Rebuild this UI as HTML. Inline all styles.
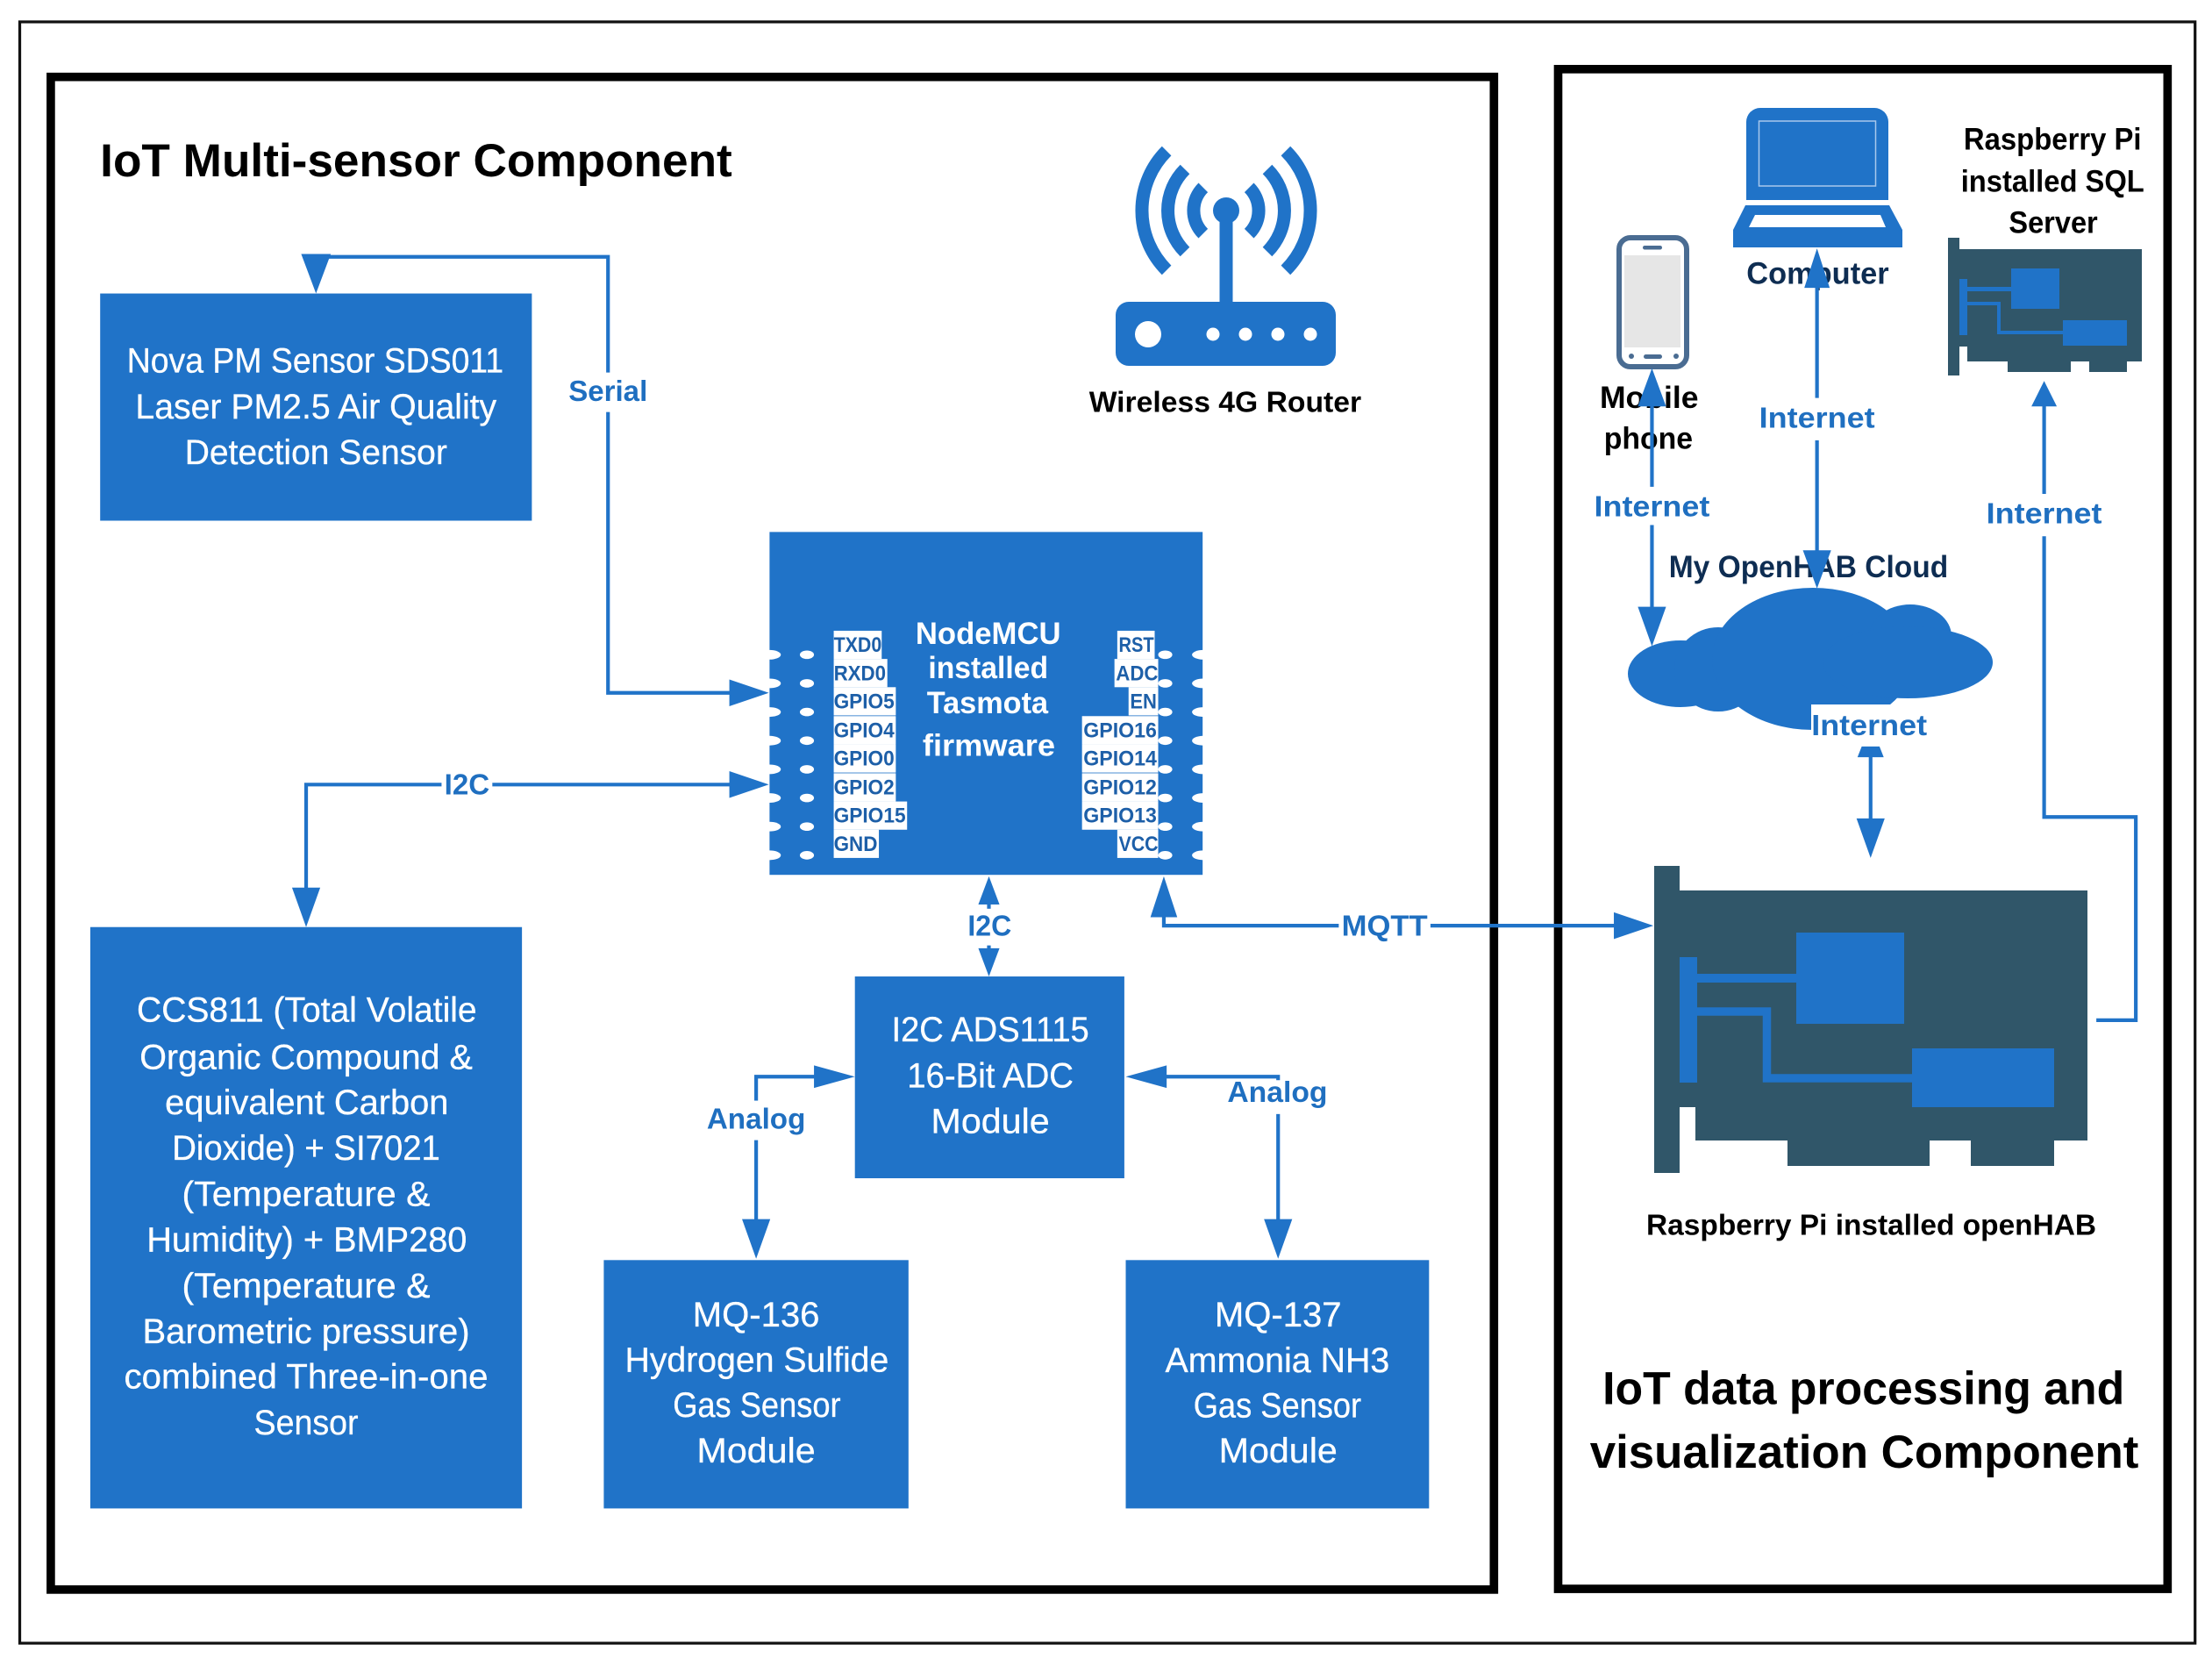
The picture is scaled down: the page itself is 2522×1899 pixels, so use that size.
<!DOCTYPE html>
<html><head><meta charset="utf-8"><style>
html,body{margin:0;padding:0;background:#fff}
svg{display:block}
text{font-family:"Liberation Sans",sans-serif}
.b{fill:#fff;font-size:25px;stroke:#fff;stroke-width:.2}
.l{fill:#1f6fc0;font-size:21px;font-weight:bold}
.k{fill:#000;font-size:21px;font-weight:bold}
.n{fill:#0e2d52;font-size:22px;font-weight:bold}
.t{fill:#000;font-size:33px;font-weight:bold}
.p{fill:#1d5fa8;font-size:15px;font-weight:bold}
.m{fill:#fff;font-size:22px;font-weight:bold}
</style></head><body>
<svg xmlns="http://www.w3.org/2000/svg" width="2522" height="1899" viewBox="0 0 2522 1899">
<rect width="2522" height="1899" fill="#fff"/>
<g transform="scale(1.60842)">
<rect x="14" y="15.500" width="1542" height="1149" fill="none" stroke="#111" stroke-width="2"/>
<rect x="36" y="54.500" width="1023" height="1072" fill="none" stroke="#000" stroke-width="6"/>
<rect x="1104.500" y="49" width="432" height="1077" fill="none" stroke="#000" stroke-width="6"/>

<g fill="#2073c8">
<rect x="71" y="208" width="306" height="161"/>
<rect x="64" y="657" width="306" height="412"/>
<rect x="606" y="692" width="191" height="143"/>
<rect x="428" y="893" width="216" height="176"/>
<rect x="798" y="893" width="215" height="176"/>
<rect x="545.500" y="377" width="307" height="243"/>
</g>

<!-- pins -->
<g fill="#fff">
<ellipse cx="545.500" cy="464" rx="8" ry="3.400"/><ellipse cx="545.500" cy="484.300" rx="8" ry="3.400"/><ellipse cx="545.500" cy="504.600" rx="8" ry="3.400"/><ellipse cx="545.500" cy="524.900" rx="8" ry="3.400"/><ellipse cx="545.500" cy="545.200" rx="8" ry="3.400"/><ellipse cx="545.500" cy="565.500" rx="8" ry="3.400"/><ellipse cx="545.500" cy="585.800" rx="8" ry="3.400"/><ellipse cx="545.500" cy="606.100" rx="8" ry="3.400"/>
<ellipse cx="572" cy="464" rx="5" ry="3"/><ellipse cx="572" cy="484.300" rx="5" ry="3"/><ellipse cx="572" cy="504.600" rx="5" ry="3"/><ellipse cx="572" cy="524.900" rx="5" ry="3"/><ellipse cx="572" cy="545.200" rx="5" ry="3"/><ellipse cx="572" cy="565.500" rx="5" ry="3"/><ellipse cx="572" cy="585.800" rx="5" ry="3"/><ellipse cx="572" cy="606.100" rx="5" ry="3"/>
<ellipse cx="826" cy="464" rx="5" ry="3"/><ellipse cx="826" cy="484.300" rx="5" ry="3"/><ellipse cx="826" cy="504.600" rx="5" ry="3"/><ellipse cx="826" cy="524.900" rx="5" ry="3"/><ellipse cx="826" cy="545.200" rx="5" ry="3"/><ellipse cx="826" cy="565.500" rx="5" ry="3"/><ellipse cx="826" cy="585.800" rx="5" ry="3"/><ellipse cx="826" cy="606.100" rx="5" ry="3"/>
<ellipse cx="853" cy="464" rx="8" ry="3.400"/><ellipse cx="853" cy="484.300" rx="8" ry="3.400"/><ellipse cx="853" cy="504.600" rx="8" ry="3.400"/><ellipse cx="853" cy="524.900" rx="8" ry="3.400"/><ellipse cx="853" cy="545.200" rx="8" ry="3.400"/><ellipse cx="853" cy="565.500" rx="8" ry="3.400"/><ellipse cx="853" cy="585.800" rx="8" ry="3.400"/><ellipse cx="853" cy="606.100" rx="8" ry="3.400"/>
<rect x="591" y="447" width="34" height="20"/><rect x="591" y="467" width="38" height="20"/><rect x="591" y="487" width="44" height="20"/><rect x="591" y="507.500" width="44" height="20"/><rect x="591" y="527.500" width="44" height="20"/><rect x="591" y="548" width="44" height="20"/><rect x="591" y="568" width="52" height="20"/><rect x="591" y="588" width="32" height="20"/>
<rect x="792" y="447" width="26.500" height="20"/><rect x="790" y="467" width="31" height="20"/><rect x="800" y="487" width="21" height="20"/><rect x="767" y="507.500" width="54" height="20"/><rect x="767" y="527.500" width="54" height="20"/><rect x="767" y="548" width="54" height="20"/><rect x="767" y="568" width="54" height="20"/><rect x="792" y="588" width="29" height="20"/>
</g>
<g>
<text class="p" x="591" y="462" textLength="34" lengthAdjust="spacingAndGlyphs">TXD0</text>
<text class="p" x="591" y="482" textLength="37" lengthAdjust="spacingAndGlyphs">RXD0</text>
<text class="p" x="591" y="502" textLength="43" lengthAdjust="spacingAndGlyphs">GPIO5</text>
<text class="p" x="591" y="522.500" textLength="43" lengthAdjust="spacingAndGlyphs">GPIO4</text>
<text class="p" x="591" y="542.500" textLength="43" lengthAdjust="spacingAndGlyphs">GPIO0</text>
<text class="p" x="591" y="563" textLength="43" lengthAdjust="spacingAndGlyphs">GPIO2</text>
<text class="p" x="591" y="583" textLength="51" lengthAdjust="spacingAndGlyphs">GPIO15</text>
<text class="p" x="591" y="603" textLength="31" lengthAdjust="spacingAndGlyphs">GND</text>
<text class="p" x="793" y="462" textLength="25" lengthAdjust="spacingAndGlyphs">RST</text>
<text class="p" x="791" y="482" textLength="30" lengthAdjust="spacingAndGlyphs">ADC</text>
<text class="p" x="801" y="502" textLength="19" lengthAdjust="spacingAndGlyphs">EN</text>
<text class="p" x="768" y="522.500" textLength="52" lengthAdjust="spacingAndGlyphs">GPIO16</text>
<text class="p" x="768" y="542.500" textLength="52" lengthAdjust="spacingAndGlyphs">GPIO14</text>
<text class="p" x="768" y="563" textLength="52" lengthAdjust="spacingAndGlyphs">GPIO12</text>
<text class="p" x="768" y="583" textLength="52" lengthAdjust="spacingAndGlyphs">GPIO13</text>
<text class="p" x="793" y="603" textLength="28" lengthAdjust="spacingAndGlyphs">VCC</text>
</g>
<text class="m" x="649" y="456.500" textLength="103" lengthAdjust="spacingAndGlyphs">NodeMCU</text>
<text class="m" x="658" y="480.500" textLength="85" lengthAdjust="spacingAndGlyphs">installed</text>
<text class="m" x="657" y="505.500" textLength="86" lengthAdjust="spacingAndGlyphs">Tasmota</text>
<text class="m" x="654" y="535.500" textLength="94" lengthAdjust="spacingAndGlyphs">firmware</text>

<!-- box text -->
<text class="b" x="90" y="264" textLength="267" lengthAdjust="spacingAndGlyphs">Nova PM Sensor SDS011</text>
<text class="b" x="96" y="296.500" textLength="256" lengthAdjust="spacingAndGlyphs">Laser PM2.5 Air Quality</text>
<text class="b" x="131" y="329" textLength="186" lengthAdjust="spacingAndGlyphs">Detection Sensor</text>

<text class="b" x="97" y="724" textLength="241" lengthAdjust="spacingAndGlyphs">CCS811 (Total Volatile</text>
<text class="b" x="99" y="757.500" textLength="236" lengthAdjust="spacingAndGlyphs">Organic Compound &amp;</text>
<text class="b" x="117" y="789.500" textLength="201" lengthAdjust="spacingAndGlyphs">equivalent Carbon</text>
<text class="b" x="122" y="822" textLength="190" lengthAdjust="spacingAndGlyphs">Dioxide) + SI7021</text>
<text class="b" x="129" y="854.500" textLength="176" lengthAdjust="spacingAndGlyphs">(Temperature &amp;</text>
<text class="b" x="104" y="887" textLength="227" lengthAdjust="spacingAndGlyphs">Humidity) + BMP280</text>
<text class="b" x="129" y="919.500" textLength="176" lengthAdjust="spacingAndGlyphs">(Temperature &amp;</text>
<text class="b" x="101" y="952" textLength="232" lengthAdjust="spacingAndGlyphs">Barometric pressure)</text>
<text class="b" x="88" y="984" textLength="258" lengthAdjust="spacingAndGlyphs">combined Three-in-one</text>
<text class="b" x="180" y="1016.500" textLength="74" lengthAdjust="spacingAndGlyphs">Sensor</text>

<text class="b" x="632" y="738" textLength="140" lengthAdjust="spacingAndGlyphs">I2C ADS1115</text>
<text class="b" x="643" y="770.500" textLength="118" lengthAdjust="spacingAndGlyphs">16-Bit ADC</text>
<text class="b" x="660" y="803" textLength="84" lengthAdjust="spacingAndGlyphs">Module</text>

<text class="b" x="491" y="940" textLength="90" lengthAdjust="spacingAndGlyphs">MQ-136</text>
<text class="b" x="443" y="972" textLength="187" lengthAdjust="spacingAndGlyphs">Hydrogen Sulfide</text>
<text class="b" x="477" y="1004" textLength="119" lengthAdjust="spacingAndGlyphs">Gas Sensor</text>
<text class="b" x="494" y="1036.500" textLength="84" lengthAdjust="spacingAndGlyphs">Module</text>

<text class="b" x="861" y="940" textLength="90" lengthAdjust="spacingAndGlyphs">MQ-137</text>
<text class="b" x="826" y="972.500" textLength="159" lengthAdjust="spacingAndGlyphs">Ammonia NH3</text>
<text class="b" x="846" y="1004.500" textLength="119" lengthAdjust="spacingAndGlyphs">Gas Sensor</text>
<text class="b" x="864" y="1036.500" textLength="84" lengthAdjust="spacingAndGlyphs">Module</text>

<text class="t" x="71" y="125" textLength="448" lengthAdjust="spacingAndGlyphs">IoT Multi-sensor Component</text>
<text class="t" x="1136" y="995" textLength="370" lengthAdjust="spacingAndGlyphs">IoT data processing and</text>
<text class="t" x="1127" y="1040" textLength="389" lengthAdjust="spacingAndGlyphs">visualization Component</text>

<text class="k" x="772" y="292" textLength="193" lengthAdjust="spacingAndGlyphs">Wireless 4G Router</text>
<text class="n" x="1238" y="201" textLength="101" lengthAdjust="spacingAndGlyphs">Computer</text>
<text class="k" x="1134" y="289" textLength="70" lengthAdjust="spacingAndGlyphs" style="font-size:22px">Mobile</text>
<text class="k" x="1137" y="318" textLength="63" lengthAdjust="spacingAndGlyphs" style="font-size:22px">phone</text>
<text class="k" x="1392" y="106" textLength="126" lengthAdjust="spacingAndGlyphs" style="font-size:22px">Raspberry Pi</text>
<text class="k" x="1390" y="136" textLength="130" lengthAdjust="spacingAndGlyphs" style="font-size:22px">installed SQL</text>
<text class="k" x="1424" y="165" textLength="63" lengthAdjust="spacingAndGlyphs" style="font-size:22px">Server</text>
<text class="k" x="1167" y="875" textLength="319" lengthAdjust="spacingAndGlyphs">Raspberry Pi installed openHAB</text>
<text class="n" x="1183" y="409" textLength="198" lengthAdjust="spacingAndGlyphs">My OpenHAB Cloud</text>
</g>

<!-- router -->
<g fill="#2073c8">
<circle cx="1398" cy="240" r="15"/><rect x="1390.500" y="240" width="15" height="106"/>
<rect x="1272" y="344" width="251" height="73" rx="15"/>
</g>
<g fill="#fff"><circle cx="1309" cy="381" r="15"/><circle cx="1383" cy="381" r="7.500"/><circle cx="1420" cy="381" r="7.500"/><circle cx="1457" cy="381" r="7.500"/><circle cx="1494" cy="381" r="7.500"/></g>
<g fill="none" stroke="#2073c8" stroke-width="15">
<path d="M1371.800 213.800A37 37 0 0 0 1371.800 266.200"/><path d="M1424.200 213.800A37 37 0 0 1 1424.200 266.200"/>
<path d="M1351 193A66.500 66.500 0 0 0 1351 287"/><path d="M1445 193A66.500 66.500 0 0 1 1445 287"/>
<path d="M1330.100 172.100A96 96 0 0 0 1330.100 307.900"/><path d="M1465.900 172.100A96 96 0 0 1 1465.900 307.900"/>
</g>

<!-- laptop -->
<path d="M1991 228V139a16 16 0 0 1 16-16h130a16 16 0 0 1 16 16v89z" fill="#2073c8"/>
<rect x="2005.500" y="138" width="133" height="74" fill="none" stroke="#a8c8ec" stroke-width="1.500"/>
<path d="M1990 234H2154L2169 262V282H1976V262z" fill="#2073c8"/>
<path d="M2001 245H2144L2150 259H1994z" fill="#fff"/>

<!-- phone -->
<rect x="1846" y="271" width="77" height="147" rx="13" fill="#fff" stroke="#4a6c92" stroke-width="6"/>
<rect x="1852" y="291" width="64" height="105" fill="#e6e6e6"/>
<rect x="1873" y="280" width="22" height="4.500" rx="2.200" fill="#4a6c92"/>
<rect x="1874" y="404" width="21" height="5" rx="2.500" fill="#4a6c92"/>
<circle cx="1860" cy="406" r="3" fill="#4a6c92"/><circle cx="1911" cy="406" r="3" fill="#4a6c92"/>

<!-- SQL board -->
<path d="M2221 271H2234V284H2442V412H2425V424H2382V412H2361V424H2289V412H2243V395H2234V428H2221z" fill="#305669"/>
<g fill="#2073c8">
<rect x="2234" y="318" width="9" height="64"/><rect x="2293" y="306" width="55" height="46"/><rect x="2352" y="365" width="73" height="29"/>
<rect x="2243" y="327" width="50" height="5"/>
</g>
<path d="M2243 346H2279V379H2352" fill="none" stroke="#2073c8" stroke-width="4"/>

<!-- big board -->
<path d="M1886 987H1915V1015H2380V1300H2342V1329H2247V1300H2200V1329H2038V1300H1933V1262H1915V1337H1886z" fill="#305669"/>
<g fill="#2073c8">
<rect x="1915" y="1091" width="20" height="143"/><rect x="2048" y="1063" width="123" height="104"/><rect x="2180" y="1195" width="162" height="67"/>
<rect x="1935" y="1110" width="113" height="10"/>
</g>
<path d="M1935 1153H2014.500V1229H2180" fill="none" stroke="#2073c8" stroke-width="9.500"/>

<!-- cloud -->
<g fill="#2073c8">
<ellipse cx="1916" cy="768" rx="60" ry="38"/><ellipse cx="1959" cy="763" rx="50" ry="48"/>
<ellipse cx="2067" cy="751" rx="115" ry="81"/><ellipse cx="2178" cy="725" rx="47" ry="36"/>
<ellipse cx="2175" cy="755" rx="97" ry="41"/>
</g>
<rect x="2065" y="803" width="135" height="46" fill="#fff"/>

<!-- connectors -->
<g transform="scale(1.60842)">
<g fill="none" stroke="#2073c8" stroke-width="2.600">
<path d="M224 182H431V491H520"/>
<path d="M217 632V556H520"/>
<path d="M701 640V674"/>
<path d="M825 648V656H1146"/>
<path d="M580 763H536V866"/>
<path d="M824 763H906V866"/>
<path d="M1171 285V345M1171 372V432"/>
<path d="M1288 200V282M1288 312V392"/>
<path d="M1449 285V350M1449 380V579H1514V723H1486"/>
<path d="M1326 535V582"/>
</g>
<g fill="#2073c8">
<path d="M213.500 180H234.500L224 208z"/>
<path d="M517 481.500L545 491L517 500.500z"/>
<path d="M207 629H227L217 657z"/>
<path d="M517 546.500L545 556L517 565.500z"/>
<path d="M693.500 641L701 621L708.500 641z"/>
<path d="M693.500 672L701 692L708.500 672z"/>
<path d="M815.500 650L825 621L834.500 650z"/>
<path d="M1144 646.500L1172 656L1144 665.500z"/>
<path d="M577 755L606 763L577 771z"/>
<path d="M827 755L798 763L827 771z"/>
<path d="M526 864H546L536 892z"/>
<path d="M896 864H916L906 892z"/>
<path d="M1161 288L1171 261L1181 288z"/>
<path d="M1161 430H1181L1171 458z"/>
<path d="M1279 204L1288 176L1297 204z"/>
<path d="M1278 390H1298L1288 417z"/>
<path d="M1440 288L1449 270L1458 288z"/>
<path d="M1316 580H1336L1326 608z"/>
<path d="M1316.700 536.600L1319.700 529H1332.300L1335.300 536.600z"/>
</g>
<g fill="#fff">
<rect x="401" y="264" width="60" height="28"/>
<rect x="313" y="544" width="36" height="26"/>
<rect x="684" y="644" width="35" height="26"/>
<rect x="949" y="644" width="65" height="26"/>
<rect x="499" y="780" width="74" height="28"/>
<rect x="868" y="765.500" width="75" height="24"/>
<rect x="1128" y="346" width="86" height="26"/>
</g>
<text class="l" x="403" y="284" textLength="56" lengthAdjust="spacingAndGlyphs">Serial</text>
<text class="l" x="315" y="563" textLength="32" lengthAdjust="spacingAndGlyphs">I2C</text>
<text class="l" x="686" y="663" textLength="31" lengthAdjust="spacingAndGlyphs">I2C</text>
<text class="l" x="951" y="663" textLength="61" lengthAdjust="spacingAndGlyphs">MQTT</text>
<text class="l" x="501" y="800" textLength="70" lengthAdjust="spacingAndGlyphs">Analog</text>
<text class="l" x="870" y="781" textLength="71" lengthAdjust="spacingAndGlyphs">Analog</text>
<text class="l" x="1130" y="366" textLength="82" lengthAdjust="spacingAndGlyphs">Internet</text>
<text class="l" x="1247" y="303" textLength="82" lengthAdjust="spacingAndGlyphs">Internet</text>
<text class="l" x="1408" y="371" textLength="82" lengthAdjust="spacingAndGlyphs">Internet</text>
<text class="l" x="1284" y="521" textLength="82" lengthAdjust="spacingAndGlyphs">Internet</text>
</g>
</svg>
</body></html>
